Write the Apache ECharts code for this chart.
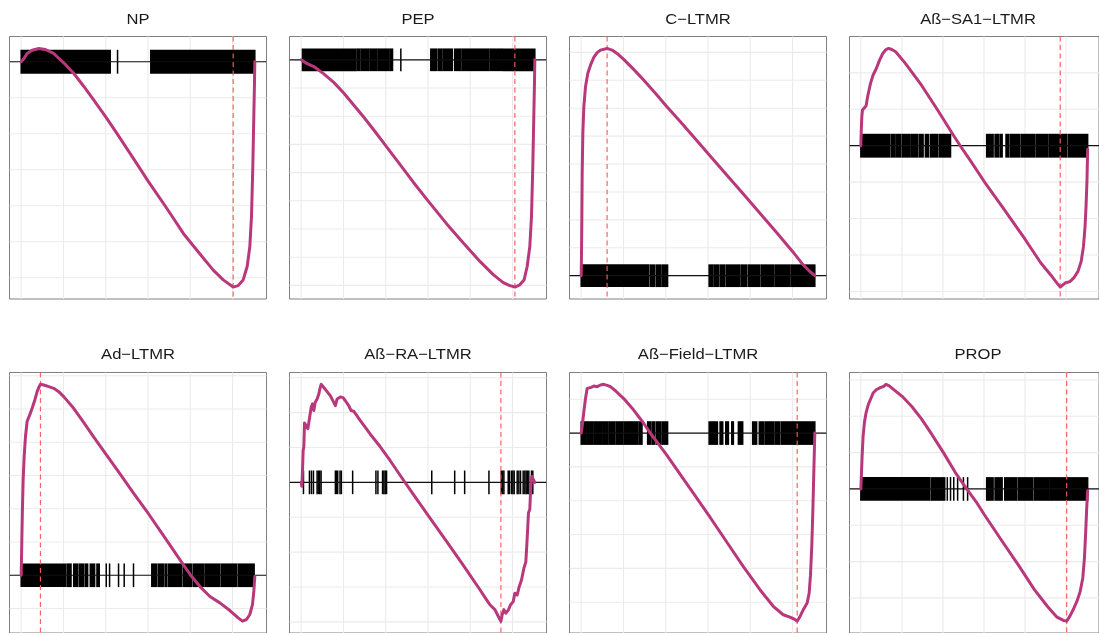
<!DOCTYPE html>
<html>
<head>
<meta charset="utf-8">
<script src="https://cdn.jsdelivr.net/npm/echarts@6/dist/echarts.min.js"></script>
<style>
  html, body { margin: 0; padding: 0; background: #ffffff; }
  #chart { width: 1099px; height: 633px; }
</style>
</head>
<body>
<div id="chart"></div>
<script>
// Ranked gene list length and x grid breaks
const N_GENES = 27630;
const xBreaks = [0, 5000, 10000, 15000, 20000, 25000];
const yStep = 0.1;

const panelNames = ['NP', 'PEP', 'C\u2212LTMR', 'A\u00df\u2212SA1\u2212LTMR',
                    'Ad\u2212LTMR', 'A\u00df\u2212RA\u2212LTMR', 'A\u00df\u2212Field\u2212LTMR', 'PROP'];

// Rank of the extreme running score (leading-edge cut) for each cell type
const peakRank = [25073, 25270, 3065, 24287, 2279, 23619, 25545, 25073];

// Running enrichment score: [rank, score]
const esNP = [[0,0],[236,0.006],[707,0.023],[1297,0.032],[2083,0.037],[2869,0.034],[3851,0.023],
  [5030,-0.003],[6209,-0.032],[7388,-0.068],[8567,-0.106],[10061,-0.155],[11318,-0.199],[13283,-0.269],
  [15052,-0.333],[17213,-0.407],[19178,-0.477],[21143,-0.534],[22715,-0.579],[23894,-0.606],[25073,-0.626],
  [25663,-0.622],[26252,-0.606],[26724,-0.569],[27038,-0.514],[27235,-0.431],[27392,-0.292],[27510,-0.153],
  [27589,-0.060],[27630,0]];

const esPEP = [[0,0],[707,-0.014],[1493,-0.024],[2673,-0.050],[3851,-0.080],[5030,-0.118],[6209,-0.160],
  [7388,-0.203],[8567,-0.248],[10061,-0.307],[11318,-0.357],[13283,-0.435],[15052,-0.502],[17213,-0.582],
  [19178,-0.650],[21143,-0.715],[22715,-0.762],[23894,-0.790],[24680,-0.801],[25270,-0.806],[25859,-0.798],
  [26370,-0.780],[26724,-0.733],[27038,-0.662],[27235,-0.556],[27392,-0.378],[27510,-0.201],[27589,-0.083],
  [27630,0]];

const esCLTMR = [[0,0],[39,0.081],[79,0.212],[118,0.367],[197,0.510],[314,0.605],[511,0.677],[786,0.725],
  [1100,0.754],[1493,0.782],[1886,0.799],[2279,0.808],[3065,0.814],[3655,0.808],[4244,0.796],[5030,0.775],
  [6209,0.739],[7388,0.701],[8960,0.647],[10061,0.608],[11711,0.552],[13283,0.498],[15052,0.436],
  [17213,0.361],[19178,0.293],[21143,0.224],[23108,0.155],[24995,0.087],[26252,0.039],[27038,0.015],
  [27630,0]];

const esSA1 = [[0,0],[39,0.034],[118,0.079],[197,0.098],[393,0.102],[629,0.109],[865,0.139],[1179,0.171],
  [1493,0.194],[1886,0.212],[2279,0.235],[2673,0.253],[3065,0.264],[3380,0.267],[3773,0.264],[4244,0.258],
  [5423,0.226],[7388,0.166],[9353,0.098],[11122,0.034],[12104,0],[13283,-0.039],[15052,-0.099],
  [17213,-0.167],[20043,-0.258],[21929,-0.322],[23108,-0.354],[23894,-0.377],[24287,-0.388],[24877,-0.377],
  [25466,-0.373],[25938,-0.363],[26449,-0.345],[26842,-0.318],[27117,-0.277],[27314,-0.222],[27431,-0.167],
  [27549,-0.094],[27630,-0.010]];

const esAd = [[0,0],[39,0.051],[79,0.110],[157,0.210],[236,0.289],[354,0.358],[511,0.418],[707,0.463],
  [1022,0.483],[1297,0.502],[1611,0.527],[1886,0.552],[2122,0.567],[2279,0.574],[2673,0.572],[3262,0.567],
  [3851,0.562],[4441,0.552],[5030,0.537],[6209,0.502],[7388,0.460],[8567,0.416],[10061,0.363],
  [11711,0.304],[13283,0.247],[15052,0.185],[17213,0.105],[18785,0.046],[20043,0],[21143,-0.034],
  [22322,-0.064],[23501,-0.083],[24680,-0.106],[25663,-0.128],[26174,-0.138],[26645,-0.133],[27038,-0.118],
  [27353,-0.088],[27510,-0.049],[27630,-0.004]];

const esRA = [[0,0],[79,-0.011],[118,0.008],[236,0.092],[314,0.102],[393,0.170],[550,0.173],[786,0.154],
  [943,0.177],[1179,0.215],[1336,0.225],[1493,0.206],[1651,0.229],[1886,0.239],[2083,0.253],[2201,0.267],
  [2358,0.281],[2673,0.272],[3065,0.260],[3458,0.248],[4048,0.220],[4244,0.239],[4637,0.245],[4952,0.243],
  [5227,0.234],[5620,0.220],[5895,0.206],[6209,0.204],[6995,0.177],[8174,0.138],[9353,0.102],[10532,0.062],
  [12104,0.006],[13283,-0.035],[15052,-0.096],[17213,-0.170],[19178,-0.238],[21143,-0.308],[21929,-0.337],
  [22322,-0.351],[22912,-0.365],[23305,-0.384],[23619,-0.398],[23776,-0.379],[23973,-0.365],[24209,-0.375],
  [24523,-0.365],[24759,-0.351],[25073,-0.342],[25270,-0.318],[25545,-0.323],[25781,-0.299],[26056,-0.280],
  [26331,-0.247],[26567,-0.228],[26724,-0.162],[26881,-0.087],[27038,-0.077],[27156,-0.011],[27274,0.017],
  [27431,0.012],[27630,0]];

const esField = [[0,0],[118,0.020],[314,0.063],[511,0.102],[707,0.132],[904,0.137],[1179,0.135],
  [1493,0.139],[1886,0.137],[2279,0.142],[2673,0.144],[3065,0.141],[3458,0.137],[4048,0.125],[5030,0.102],
  [6209,0.068],[7388,0.029],[8174,0],[10061,-0.063],[11711,-0.122],[13283,-0.178],[15052,-0.242],
  [17213,-0.322],[19178,-0.395],[21143,-0.463],[22715,-0.512],[23894,-0.537],[24680,-0.544],[25270,-0.551],
  [25545,-0.556],[25938,-0.539],[26331,-0.519],[26724,-0.502],[26960,-0.473],[27117,-0.420],[27274,-0.332],
  [27392,-0.234],[27510,-0.117],[27589,-0.039],[27630,0]];

const esPROP = [[0,0],[79,0.045],[157,0.091],[275,0.145],[432,0.182],[629,0.209],[904,0.232],[1179,0.247],
  [1493,0.264],[1886,0.273],[2358,0.279],[2751,0.282],[3065,0.288],[3458,0.284],[4048,0.273],[5030,0.255],
  [6209,0.227],[7388,0.193],[8567,0.153],[10061,0.100],[11514,0.045],[12890,0],[14069,-0.036],
  [15052,-0.071],[17213,-0.144],[19178,-0.209],[21143,-0.277],[22715,-0.323],[23894,-0.353],[24680,-0.362],
  [25073,-0.364],[25466,-0.350],[25938,-0.329],[26331,-0.309],[26724,-0.282],[27038,-0.245],[27235,-0.191],
  [27392,-0.118],[27510,-0.055],[27630,-0.005]];

// Gene-set members along the ranking: dense runs [from, to] and isolated hits
const runsNP = [[0,10532],[15327,27630]];
const hitsNP = [11397];

const runsPEP = [[150,6481],[6638,6952],[7109,7974],[8131,8917],[9075,9939],[10096,10332],[10489,10803],
  [15327,15995],[16191,16624],[16781,17881],[18157,18864],[19022,22205],[22362,23777],[23934,27630]];
const hitsPEP = [11786];

const runsCLTMR = [[0,7978],[8174,8685],[8882,9353],[9550,10218],[15131,15563],[15720,16231],[16427,16938],
  [17135,18785],[18982,19571],[19768,21143],[21340,22715],[22912,24680],[24838,27630]];
const hitsCLTMR = [];

const runsSA1 = [[0,3537],[3734,4166],[4323,4834],[5030,5895],[6092,6917],[7113,7585],[7860,8253],
  [8489,9353],[9550,10061],[10218,10925],[15327,16113],[16349,16820],[17017,17213],[17685,17999],
  [18196,19375],[19571,21143],[21340,22715],[22912,25073],[25270,27630]];
const hitsSA1 = [];

const runsAd = [[0,5227],[5423,5895],[6209,6681],[6878,7388],[7585,7860],[8174,8685],[8960,9236],
  [15445,16034],[16231,16820],[17017,17213],[17410,18982],[19178,20161],[20357,21536],[21733,23501],
  [23698,25466],[25663,27549]];
const hitsAd = [10061,10454,11515,12183,13283];

const runsRA = [];
const hitsRA = [271,979,1214,1450,1882,2040,2197,2354,4044,4162,4319,4594,4751,6087,8839,9075,9625,9782,
  9939,10096,15442,18154,19333,22205,23659,23816,23973,24484,24641,24877,25034,25191,25545,25742,25938,
  26253,26449,26606,26764,26921,27235,27392];

const runsField = [[0,590],[707,1415],[1572,2397],[2555,3183],[3341,3969],[4127,4952],[5109,5816],
  [5934,6720],[6878,7192],[7860,8174],[8371,8685],[8882,9353],[9550,10218],[15131,16113],[16427,16742],
  [17096,17410],[17803,17999],[18589,19100],[20279,20750],[21065,21536],[21733,22244],[22401,22715],
  [22912,23501],[23698,25073],[25191,27630]];
const hitsField = [];

const runsPROP = [[0,8371],[8567,10218],[15327,16113],[16349,17213],[17528,18982],[19178,20947],
  [21143,22912],[23030,25073],[25191,27630]];
const hitsPROP = [10532,10925,11318,11790,12497,13008];

const esList = [esNP, esPEP, esCLTMR, esSA1, esAd, esRA, esField, esPROP];
const runsList = [runsNP, runsPEP, runsCLTMR, runsSA1, runsAd, runsRA, runsField, runsPROP];
const hitsList = [hitsNP, hitsPEP, hitsCLTMR, hitsSA1, hitsAd, hitsRA, hitsField, hitsPROP];

// Panel geometry (4 x 2 facets)
const PANEL_W = 257, PANEL_H = 262.5;
const COL_X = [9.5, 289.5, 569.5, 849.5];
const ROW_Y = [36.5, 372.5];
const TITLE_Y = [20, 355.3];

const CURVE_COLOR = '#B8387B';
const GRID_COLOR = '#EBEBEB';

const grids = [], xAxes = [], yAxes = [], series = [], graphics = [];

panelNames.forEach((name, i) => {
  const col = i % 4, row = Math.floor(i / 4);
  const es = esList[i];
  const scores = es.map(p => p[1]);
  const esMin = Math.min(...scores), esMax = Math.max(...scores);
  const half = (esMax - esMin) / 20;           // half height of the hit ticks
  const lo = Math.min(esMin, -half), hi = Math.max(esMax, half);
  const pad = (hi - lo) * 0.05;
  const yMin = lo - pad, yMax = hi + pad;

  const yBreaks = [];
  for (let k = Math.ceil(yMin / yStep); k <= Math.floor(yMax / yStep); k++) yBreaks.push(+(k * yStep).toFixed(3));

  grids.push({
    left: COL_X[col], top: ROW_Y[row], width: PANEL_W, height: PANEL_H,
    show: true, borderColor: '#808080', borderWidth: 1, backgroundColor: '#ffffff'
  });
  xAxes.push({
    type: 'value', gridIndex: i, min: -0.05 * N_GENES, max: 1.05 * N_GENES,
    show: false, splitLine: { show: false }
  });
  yAxes.push({
    type: 'value', gridIndex: i, min: yMin, max: yMax,
    show: false, splitLine: { show: false }
  });

  // background grid lines
  const gridData = xBreaks.map(v => [0, v]).concat(yBreaks.map(v => [1, v]));
  series.push({
    type: 'custom', xAxisIndex: i, yAxisIndex: i, z: 1, silent: true,
    data: gridData,
    renderItem: (params, api) => {
      const cs = params.coordSys;
      const kind = api.value(0), v = api.value(1);
      if (kind === 0) {
        const x = api.coord([v, 0])[0];
        return { type: 'line', shape: { x1: x, y1: cs.y, x2: x, y2: cs.y + cs.height },
                 style: { stroke: GRID_COLOR, lineWidth: 1.1 } };
      }
      const y = api.coord([0, v])[1];
      return { type: 'line', shape: { x1: cs.x, y1: y, x2: cs.x + cs.width, y2: y },
               style: { stroke: GRID_COLOR, lineWidth: 1.1 } };
    }
  });

  // gene-set hits as vertical ticks around zero
  const rugData = runsList[i].map(r => [r[0], r[1]]).concat(hitsList[i].map(h => [h, h]));
  series.push({
    type: 'custom', xAxisIndex: i, yAxisIndex: i, z: 3, silent: true,
    data: rugData,
    renderItem: (params, api) => {
      const a = api.coord([api.value(0), half]);
      const b = api.coord([api.value(1), -half]);
      const x0 = a[0] - 0.75, x1 = b[0] + 0.75;
      return { type: 'rect', shape: { x: x0, y: a[1], width: x1 - x0, height: b[1] - a[1] },
               style: { fill: '#000000' } };
    }
  });

  // zero line
  series.push({
    type: 'custom', xAxisIndex: i, yAxisIndex: i, z: 4, silent: true,
    data: [[0, 0]],
    renderItem: (params, api) => {
      const cs = params.coordSys;
      const y = api.coord([0, 0])[1];
      return { type: 'line', shape: { x1: cs.x, y1: y, x2: cs.x + cs.width, y2: y },
               style: { stroke: '#111111', lineWidth: 1.2 } };
    }
  });

  // leading-edge marker
  series.push({
    type: 'custom', xAxisIndex: i, yAxisIndex: i, z: 5, silent: true,
    data: [[peakRank[i], 0]],
    renderItem: (params, api) => {
      const cs = params.coordSys;
      const x = api.coord([api.value(0), 0])[0];
      return { type: 'line', shape: { x1: x, y1: cs.y, x2: x, y2: cs.y + cs.height },
               style: { stroke: '#FF5A5A', lineWidth: 1.2, lineDash: [5, 3.5], opacity: 0.95 } };
    }
  });

  // running enrichment score
  series.push({
    type: 'line', xAxisIndex: i, yAxisIndex: i, z: 6, silent: true,
    data: es, showSymbol: false, symbol: 'none', smooth: false,
    lineStyle: { color: CURVE_COLOR, width: 3, join: 'round', cap: 'round' }
  });

  graphics.push({
    type: 'text',
    x: COL_X[col] + PANEL_W / 2, y: TITLE_Y[row],
    scaleX: 1.12,
    style: {
      text: name, fill: '#1a1a1a',
      font: '14.8px "Liberation Sans", Arial, sans-serif',
      textAlign: 'center', textVerticalAlign: 'middle'
    }
  });
});

const chart = echarts.init(document.getElementById('chart'), null, { renderer: 'canvas' });
chart.setOption({
  animation: false,
  backgroundColor: '#ffffff',
  grid: grids,
  xAxis: xAxes,
  yAxis: yAxes,
  series: series,
  graphic: graphics
});
</script>
</body>
</html>
